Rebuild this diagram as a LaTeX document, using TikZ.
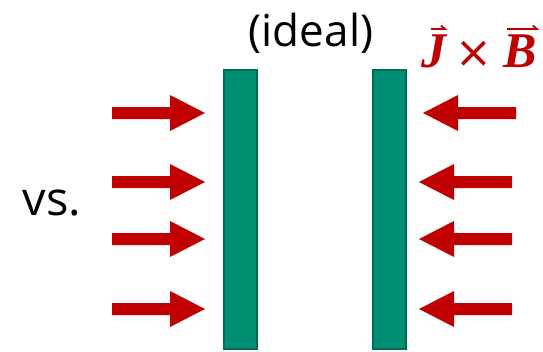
\documentclass[tikz,border=0pt]{standalone}
\usepackage{fontspec}
\setmainfont{Open Sans}
\newfontfamily\vecfont{Liberation Serif}
\newfontfamily\crossfont{DejaVu Sans}[Scale=1.0]
\definecolor{arrowred}{HTML}{C00000}
\definecolor{platefill}{HTML}{008F72}
\definecolor{plateedge}{HTML}{006C54}
\tikzset{
  plate/.style={fill=platefill, draw=plateedge, line width=2pt},
  label/.style={inner sep=0pt, text=black},
  vecsym/.style={inner sep=0pt, text=arrowred, anchor=base, font=\vecfont\fontsize{50}{60}\selectfont},
  pics/fatarrow/.style={code={
    \fill[arrowred] (0,-6) -- (58,-6) -- (58,-18) -- (93,0) -- (58,18) -- (58,6) -- (0,6) -- cycle;
  }}
}
\begin{document}
\begin{tikzpicture}[x=1pt, y=-1pt]
  \useasboundingbox (0,0) rectangle (543,351);

  % conducting plates
  \path[plate] (224,70) rectangle (257,349);
  \path[plate] (373,70) rectangle (406,349);

  % force arrows pushing on the left plate
  \pic at (112,113) {fatarrow};
  \pic at (112,182) {fatarrow};
  \pic at (112,239) {fatarrow};
  \pic at (112,309) {fatarrow};

  % force arrows pushing on the right plate
  \pic[rotate=180] at (516,113) {fatarrow};
  \pic[rotate=180] at (512,182) {fatarrow};
  \pic[rotate=180] at (512,239) {fatarrow};
  \pic[rotate=180] at (512,309) {fatarrow};

  % labels
  \node[label, anchor=base] (ideal) at (311,46) {\fontsize{44}{52}\selectfont (ideal)};
  \node[label, anchor=base] (vs) at (52,215) {\fontsize{47}{56}\selectfont vs.};

  % J x B label with vector marks
  \node[vecsym] (jvec) at (434,67) {\bfseries\itshape J};
  \node[vecsym, font=\crossfont\fontsize{44}{52}\selectfont] (cross) at (474,67) {\symbol{"00D7}};
  \node[vecsym] (bvec) at (520,67) {\bfseries\itshape B};
  \draw[arrowred, line width=1.8pt] ([xshift=-3pt, yshift=5pt]jvec.north) -- ([xshift=11pt, yshift=5pt]jvec.north) -- ([xshift=7pt, yshift=8.5pt]jvec.north);
  \draw[arrowred, line width=1.8pt] ([xshift=4pt, yshift=5pt]bvec.north west) -- ([xshift=0pt, yshift=5pt]bvec.north east) -- ([xshift=-4pt, yshift=8.5pt]bvec.north east);
\end{tikzpicture}
\end{document}
